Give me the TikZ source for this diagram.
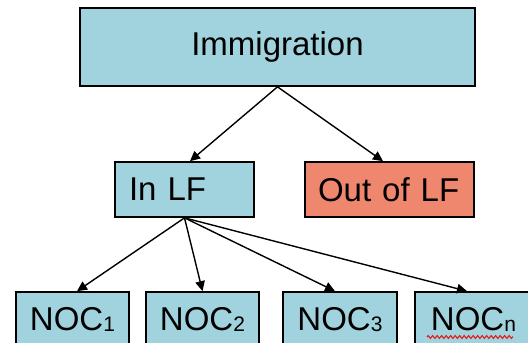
\documentclass[tikz,border=0pt]{standalone}
\usepackage{fontspec}
\setmainfont{Liberation Sans}
\usetikzlibrary{arrows.meta,calc,decorations.pathmorphing}

\definecolor{boxblue}{RGB}{161,211,222}
\definecolor{boxsalmon}{RGB}{238,135,110}
\definecolor{squiggle}{RGB}{225,30,30}

\tikzset{
  box/.style={draw=black, line width=1.7pt, rectangle, inner sep=0pt,
    font=\fontsize{33}{38}\selectfont},
  bluebox/.style={box, fill=boxblue},
  redbox/.style={box, fill=boxsalmon},
  link/.style={draw=black, line width=1.4pt,
    -{Triangle[length=10pt,width=9.5pt]}, shorten >=0pt},
}
\newcommand{\nocsub}[1]{NOC\raisebox{-0.5pt}{\fontsize{21}{22}\selectfont #1}}

\begin{document}
\begin{tikzpicture}[x=1pt,y=-1pt]
  \clip (0,0) rectangle (528,343);
  \fill[white] (0,0) rectangle (528,343);

  % top level
  \node[bluebox, minimum width=395pt, minimum height=78pt] (immg) at (277.5,47) {Immigration};

  % labour-force split
  \node[bluebox, minimum height=55pt, text width=111pt, inner xsep=14pt, align=left]
    (inlf) at (184.5,189.5) {In LF};
  \node[redbox, minimum height=55pt, text width=143pt, inner xsep=13pt, align=left]
    (outlf) at (389.5,189.5) {Out of LF};

  % occupations
  \node[bluebox, minimum width=113pt, minimum height=55pt] (noc1) at (72.5,319.5) {\nocsub{1}};
  \node[bluebox, minimum width=113pt, minimum height=55pt] (noc2) at (202.5,319.5) {\nocsub{2}};
  \node[bluebox, minimum width=114pt, minimum height=55pt] (noc3) at (340,319.5) {\nocsub{3}};
  \node[bluebox, minimum width=117pt, minimum height=55pt] (nocn) at (473.5,319.5) {\nocsub{n}};

  % spell-check underline beneath the last label
  \coordinate (sqa) at (427,337);
  \coordinate (sqb) at (513,337);
  \draw[squiggle, line width=1.1pt, decorate,
        decoration={zigzag, segment length=4.5pt, amplitude=1.4pt}] (sqa) -- (sqb);

  % connectors
  \draw[link] (immg.south) -- ($(inlf.north)+(5.5,0)$);
  \draw[link] (immg.south) -- ($(outlf.north)+(-6.5,0)$);
  \draw[link] (inlf.south) -- ($(noc1.north)+(4.5,0)$);
  \draw[link] (inlf.south) -- (noc2.north);
  \draw[link] (inlf.south) -- ($(noc3.north)+(-5,0)$);
  \draw[link] (inlf.south) -- ($(nocn.north)+(-6.5,0)$);
\end{tikzpicture}
\end{document}
